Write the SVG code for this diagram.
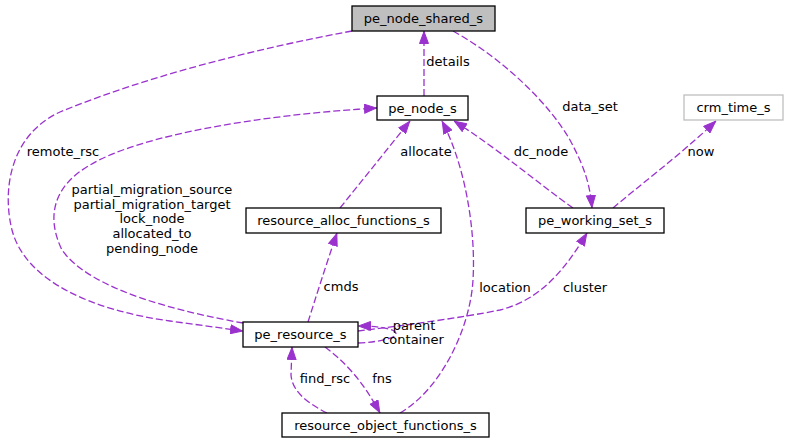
<svg xmlns="http://www.w3.org/2000/svg" width="788" height="444" viewBox="0 0 788 444">
<style>
.box{fill:#ffffff;stroke:#000000;stroke-width:1.3}
.root{fill:#bfbfbf;stroke:#000000;stroke-width:1.3}
.ext{fill:#ffffff;stroke:#bfbfbf;stroke-width:1.3}
text{font-family:"DejaVu Sans","Liberation Sans",sans-serif;font-size:13px;fill:#000000}
.c{text-anchor:middle}
.e{fill:none;stroke:#9a32cd;stroke-width:1.3;stroke-dasharray:7,3;marker-end:url(#ah)}
</style>
<defs>
<marker id="ah" viewBox="0 0 13 10" refX="13" refY="5" markerWidth="13" markerHeight="10" markerUnits="userSpaceOnUse" orient="auto">
<path d="M0.5,0.5 L12.5,5 L0.5,9.5 z" fill="#9a32cd" stroke="#9a32cd" stroke-width="1"/>
</marker>
</defs>
<rect width="788" height="444" fill="#ffffff"/>
<g id="connectors">
<path class="e" d="M424,96 L424,31"/>
<text class="c" x="448" y="66">details</text>
<path class="e" d="M352,31 C260,48 150,75 60,112 C10,135 2,190 12,230 C25,280 90,310 170,321 L243,331"/>
<text class="c" x="63" y="156">remote_rsc</text>
<path class="e" d="M243,323 C180,312 90,290 62,250 C45,215 55,185 90,165 C140,135 260,115 377,108"/>
<text class="c" x="152" y="194">partial_migration_source</text>
<text class="c" x="152" y="208.5">partial_migration_target</text>
<text class="c" x="152" y="223">lock_node</text>
<text class="c" x="152" y="238">allocated_to</text>
<text class="c" x="152" y="252.5">pending_node</text>
<path class="e" d="M340,208 L410,121"/>
<text class="c" x="426" y="156">allocate</text>
<path class="e" d="M400,413 C440,390 470,330 473,280 C476,230 465,165 442,121"/>
<text class="c" x="505" y="292">location</text>
<path class="e" d="M573,208 C540,185 500,150 454,121"/>
<text class="c" x="541" y="156">dc_node</text>
<path class="e" d="M453,31 C505,60 550,105 570,140 C585,168 590,185 592,208"/>
<text class="c" x="590" y="111">data_set</text>
<path class="e" d="M613,208 C640,185 680,155 716,121"/>
<text class="c" x="701" y="156">now</text>
<path class="e" d="M308,322 C315,300 326,265 337,233"/>
<text class="c" x="341" y="291">cmds</text>
<path class="e" d="M358,331 C400,326 460,318 500,310 C540,300 565,270 587,233"/>
<text class="c" x="585" y="292">cluster</text>
<path class="e" d="M358,343 C380,342 396,338 396,334 C396,329 380,326 358,326"/>
<text class="c" x="414" y="330">parent</text>
<text class="c" x="413" y="344">container</text>
<path class="e" d="M327,413 C305,402 292,390 291,375 L292,347"/>
<text class="c" x="325" y="383">find_rsc</text>
<path class="e" d="M325,347 C345,362 362,380 380,413"/>
<text class="c" x="382" y="383">fns</text>
</g>
<g id="pe_node_shared_s">
<rect class="root" x="352" y="6" width="143" height="25"/>
<text class="c" x="423.5" y="23">pe_node_shared_s</text>
</g>
<g id="pe_node_s">
<rect class="box" x="377" y="96" width="91" height="24"/>
<text class="c" x="422.5" y="113">pe_node_s</text>
</g>
<g id="crm_time_s">
<rect class="ext" x="684" y="95" width="99" height="25"/>
<text class="c" x="733.5" y="112">crm_time_s</text>
</g>
<g id="pe_working_set_s">
<rect class="box" x="526" y="208" width="138" height="25"/>
<text class="c" x="595" y="225">pe_working_set_s</text>
</g>
<g id="resource_alloc_functions_s">
<rect class="box" x="246" y="208" width="195" height="25"/>
<text class="c" x="343.5" y="225">resource_alloc_functions_s</text>
</g>
<g id="pe_resource_s">
<rect class="box" x="243" y="322" width="115" height="25"/>
<text class="c" x="300.5" y="339">pe_resource_s</text>
</g>
<g id="resource_object_functions_s">
<rect class="box" x="282" y="413" width="207" height="24"/>
<text class="c" x="385.5" y="430">resource_object_functions_s</text>
</g>
</svg>
